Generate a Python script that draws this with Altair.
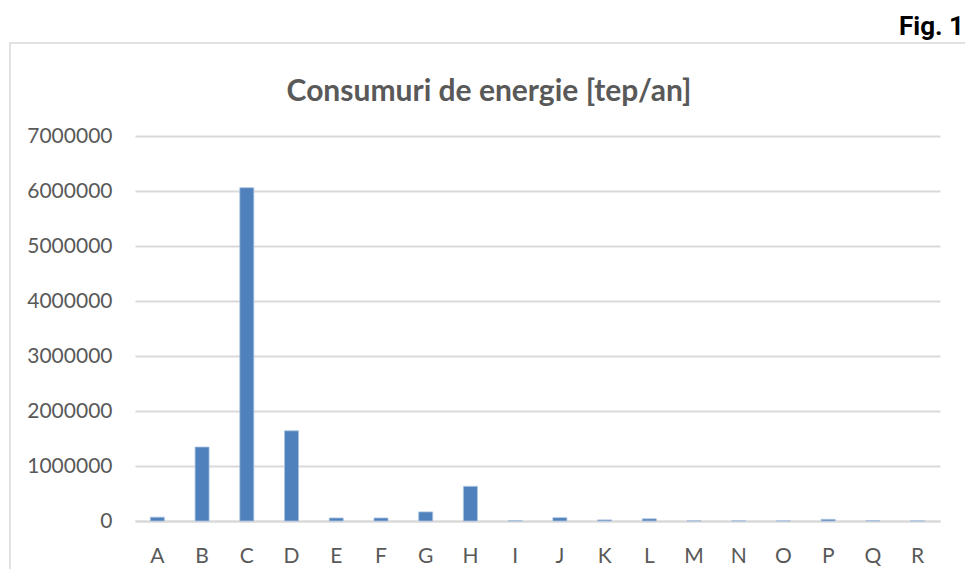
import altair as alt
import pandas as pd

categories = ["A", "B", "C", "D", "E", "F", "G", "H", "I", "J", "K", "L", "M", "N", "O", "P", "Q", "R"]
values = [70000, 1345000, 6060000, 1640000, 55000, 55000, 165000, 630000, 5000, 60000,
          20000, 40000, 3000, 3000, 2000, 30000, 5000, 2000]
y_ticks = [0, 1000000, 2000000, 3000000, 4000000, 5000000, 6000000, 7000000]
title_text = "Consumuri de energie [tep/an]"
fig_text = "Fig. 1"

df = pd.DataFrame({"cat": categories, "val": values})

FONT = "Lato"
GRAY = "#595959"
GRID = "#d9d9d9"

bars = alt.Chart(df).mark_bar(
    color="#4f81bd", stroke="#a9c1e0", strokeWidth=0.8
).encode(
    x=alt.X("cat:N", sort=categories, title=None,
            scale=alt.Scale(paddingInner=0.687, paddingOuter=0.3435),
            axis=alt.Axis(labelAngle=0, labelFont=FONT, labelFontSize=21, labelColor=GRAY,
                          ticks=False, domainColor=GRID, domainWidth=2, labelPadding=24,
                          grid=False)),
    y=alt.Y("val:Q", title=None,
            scale=alt.Scale(domain=[0, 7000000], nice=False),
            axis=alt.Axis(values=y_ticks, format="d", labelFont=FONT, labelFontSize=21,
                          labelColor=GRAY, ticks=False, domain=False, labelPadding=23,
                          gridColor=GRID, gridWidth=2)),
)

frame = alt.Chart(alt.Data(values=[{}])).mark_rect(
    fill="white", fillOpacity=0, stroke=GRID, strokeWidth=1.5, clip=False
).encode(
    x=alt.value(-125), x2=alt.value(834), y=alt.value(-93), y2=alt.value(480)
)

title = alt.Chart(alt.Data(values=[{"t": title_text}])).mark_text(
    font=FONT, fontSize=30, fontWeight="bold", color=GRAY, align="center",
    baseline="alphabetic", clip=False
).encode(
    x=alt.value(354), y=alt.value(-35), text="t:N"
)

fig = alt.Chart(alt.Data(values=[{"t": fig_text}])).mark_text(
    font="Roboto", fontSize=26, fontWeight="bold", color="#000000",
    align="right", baseline="alphabetic", clip=False
).encode(
    x=alt.value(829), y=alt.value(-101), text="t:N"
)

chart = alt.layer(frame, bars, title, fig).properties(
    width=805, height=385,
    autosize=alt.AutoSizeParams(type="none"),
    padding={"left": 127, "top": 128, "right": 25, "bottom": 48},
    background="white",
).configure_view(stroke=None)

chart.save("out.html", embed_options={"renderer": "svg", "actions": False})
